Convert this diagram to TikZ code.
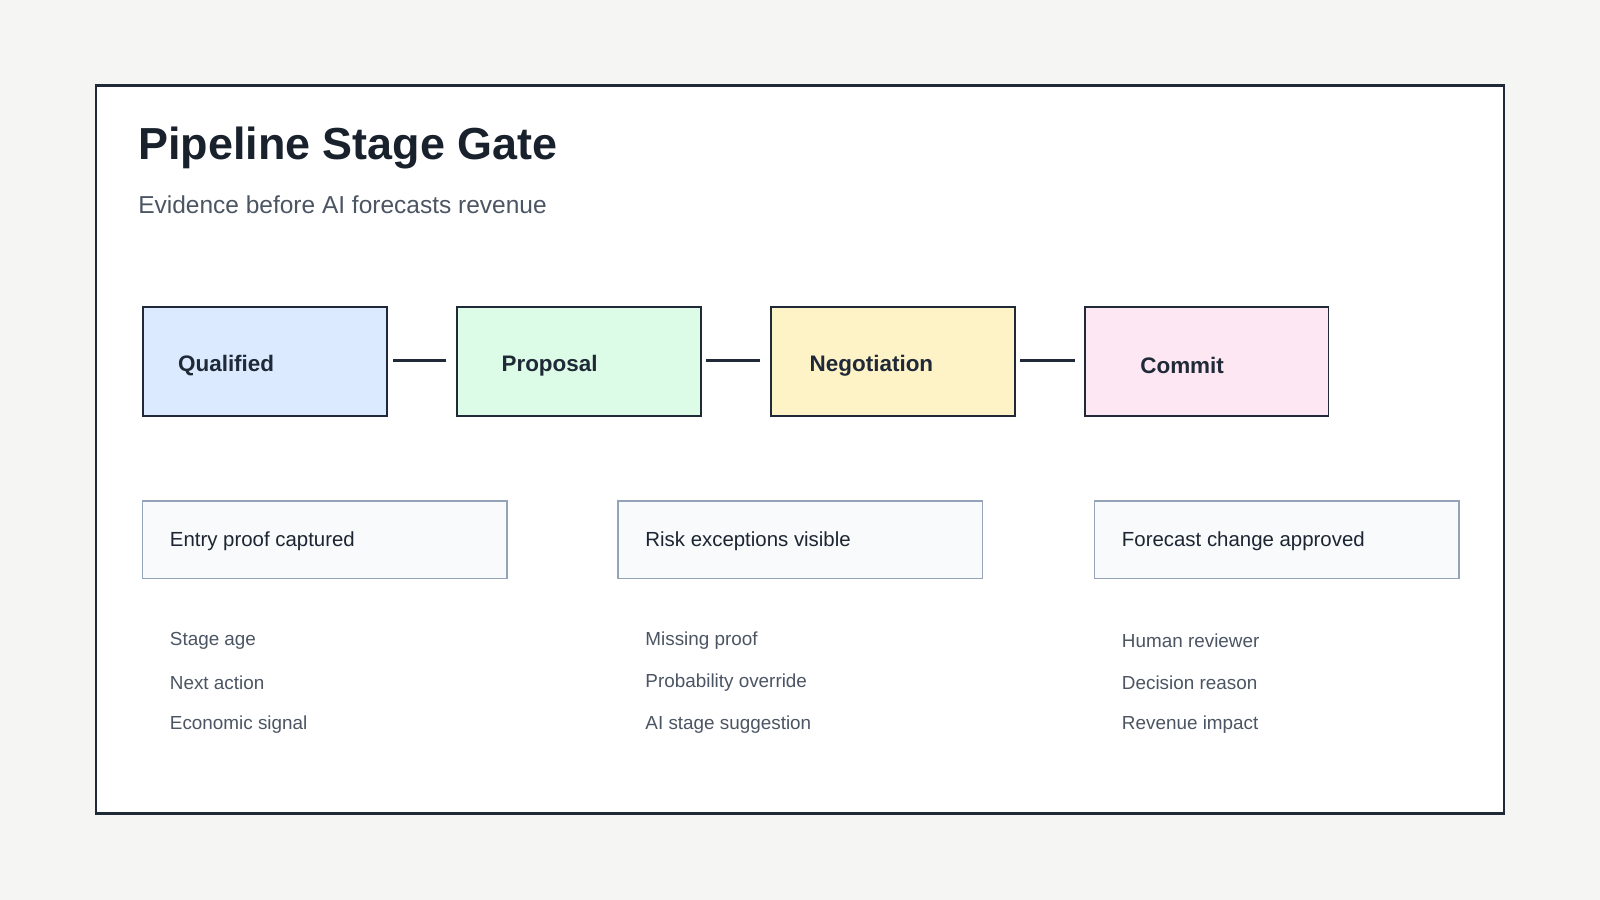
\documentclass[tikz,border=0pt]{standalone}
\usepackage{fontspec}
\setmainfont{Liberation Sans}
\definecolor{bg}{HTML}{F5F5F3}
\definecolor{ink}{HTML}{1F2937}
\definecolor{sub}{HTML}{4B5563}
\definecolor{gbd}{HTML}{94A3B8}
\definecolor{gfl}{HTML}{F8FAFC}
\definecolor{cb}{HTML}{DBEAFE}
\definecolor{cg}{HTML}{DCFCE7}
\definecolor{cy}{HTML}{FEF3C7}
\definecolor{cp}{HTML}{FCE7F3}
\begin{document}
\begin{tikzpicture}[x=1pt,y=-1pt,
 stage/.style={draw=ink,line width=1.8pt,minimum width=239pt,minimum height=107pt,anchor=north west,inner sep=0},
 slabel/.style={anchor=west,font=\fontsize{22}{26}\selectfont\bfseries,text=ink},
 gate/.style={draw=gbd,fill=gfl,line width=1.5pt,minimum width=357pt,minimum height=76pt,anchor=north west,inner sep=0},
 glabel/.style={anchor=west,font=\fontsize{20}{24}\selectfont,text=ink!90!black},
 item/.style={anchor=west,font=\fontsize{18.5}{22}\selectfont,text=sub},
 conn/.style={draw=ink,line width=3pt}]
\fill[bg] (0,0) rectangle (1568,882);
\useasboundingbox (0,0) rectangle (1568,882);
\draw[ink,line width=2.5pt,fill=white] (94,84) rectangle (1474,797);
\node[anchor=west,font=\fontsize{44}{50}\selectfont\bfseries,text=ink!80!black] (title) at (132,145) {Pipeline Stage Gate};
\node[anchor=west,font=\fontsize{24}{28}\selectfont,text=sub] (subt) at (132,201) {Evidence before AI forecasts revenue};
\node[stage,fill=cb] (s1) at (139,300) {};
\node[stage,fill=cg] (s2) at (447,300) {};
\node[stage,fill=cy] (s3) at (755,300) {};
\node[stage,fill=cp] (s4) at (1062,300) {};
\node[slabel] (l1) at (171,358) {Qualified};
\node[slabel] (l2) at (488,358) {Proposal};
\node[slabel] (l3) at (790,358) {Negotiation};
\node[slabel] (l4) at (1114,358) {Commit};
\coordinate (a1) at (385,353); \coordinate (b1) at (437,353);
\coordinate (a2) at (692,353); \coordinate (b2) at (745,353);
\coordinate (a3) at (1000,353); \coordinate (b3) at (1053,353);
\draw[conn] (a1) -- (b1); \draw[conn] (a2) -- (b2); \draw[conn] (a3) -- (b3);
\node[gate] (g1) at (139,490) {};
\node[gate] (g2) at (605,490) {};
\node[gate] (g3) at (1072,490) {};
\node[glabel] (t1) at (163,530) {Entry proof captured};
\node[glabel] (t2) at (629,530) {Risk exceptions visible};
\node[glabel] (t3) at (1096,530) {Forecast change approved};
\node[item] (i11) at (163,628) {Stage age};
\node[item] (i12) at (163,669) {Next action};
\node[item] (i13) at (163,710) {Economic signal};
\node[item] (i21) at (629,628) {Missing proof};
\node[item] (i22) at (629,669) {Probability override};
\node[item] (i23) at (629,710) {AI stage suggestion};
\node[item] (i31) at (1096,628) {Human reviewer};
\node[item] (i32) at (1096,669) {Decision reason};
\node[item] (i33) at (1096,710) {Revenue impact};
\end{tikzpicture}
\end{document}
